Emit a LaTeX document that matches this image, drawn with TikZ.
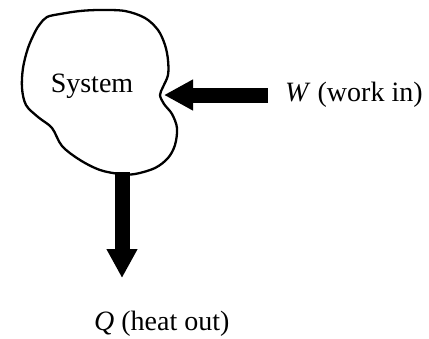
\documentclass[tikz,border=0pt]{standalone}
\usepackage{fontspec}
\setmainfont{Liberation Serif}
\usetikzlibrary{arrows.meta}
\tikzset{
  lbl/.style={font=\fontsize{28}{32}\selectfont, inner sep=0pt},
  blockarrow/.style={line width=15pt, -{Triangle[width=29pt,length=29pt]}},
  boundary/.style={line width=2.3pt, line join=round}
}
\begin{document}
\begin{tikzpicture}[x=1pt,y=-1pt]
\useasboundingbox (0,0) rectangle (429,338);
\draw[boundary] plot[smooth cycle, tension=0.55] coordinates {
(40,24) (47,17) (60,14) (80,11) (100,10) (125,11) (145,18) (158,30) (165,45) (168,60) (168,75) (163,87) (160,95) (164,104) (172,114) (177,128) (175,145) (168,158) (155,168) (135,174) (120,174) (100,170) (80,160) (62,146) (52,128) (38,117) (26,105) (22,88) (23,68) (28,48) (35,32)};
\node[lbl] (sys) at (92,86) {System};
\node[lbl, anchor=west] (wl) at (285,95) {\textit{W} (work in)};
\node[lbl, anchor=west] (ql) at (94,324) {\textit{Q} (heat out)};
\coordinate (wstart) at (268,95);
\coordinate (wtip) at (164,95);
\coordinate (qstart) at (122,172);
\coordinate (qtip) at (122,278);
\draw[blockarrow] (wstart) -- (wtip);
\draw[blockarrow] (qstart) -- (qtip);
\end{tikzpicture}
\end{document}
